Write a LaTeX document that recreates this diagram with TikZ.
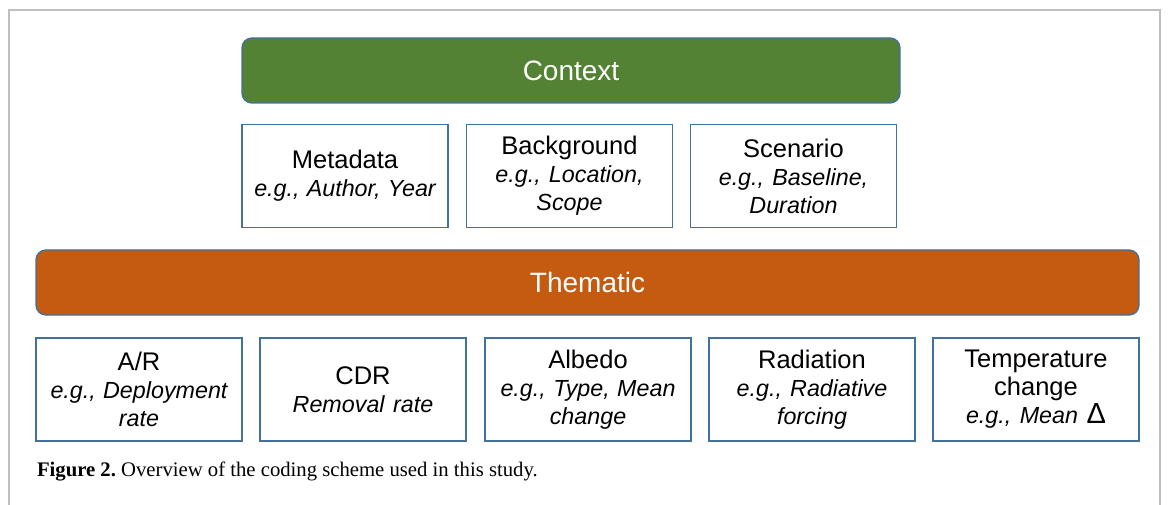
\documentclass[tikz,border=0pt]{standalone}
\usepackage{fontspec}
\setmainfont{Liberation Serif}
\newfontfamily\boxfont{Liberation Sans}
\definecolor{ctxgreen}{HTML}{548235}
\definecolor{thmorange}{HTML}{C55A11}
\definecolor{edgeblue}{HTML}{41719C}
\definecolor{framegray}{HTML}{BFBFBF}
\frenchspacing
\newcommand{\exmp}[1]{{\fontsize{23.3}{28}\selectfont\itshape\spaceskip=0pt\xspaceskip=0pt #1}}

\begin{document}
\begin{tikzpicture}[x=1pt, y=-1pt,
    every node/.style={outer sep=0pt, inner sep=0pt},
    codebox/.style={draw=edgeblue, line width=1.4pt, fill=white, minimum width=206pt, minimum height=103pt, text width=204pt, align=center, font=\boxfont\fontsize{25.5}{28}\selectfont},
    bar/.style={draw=edgeblue, line width=1.4pt, rounded corners=10pt, minimum height=65pt, text=white, font=\boxfont\fontsize{28}{32}\selectfont}]
            \useasboundingbox (0,0) rectangle (1168,505);
            \draw[framegray, line width=2pt] (9,505) -- (9,10) -- (1160,10) -- (1160,505);
            \node[bar, fill=ctxgreen, minimum width=658pt] (context) at (571,70.5) {Context};
            \node[codebox] (meta) at (345,176) {Metadata\\ \exmp{e.g., Author, Year}};
            \node[codebox] (backg) at (569.5,176) {Background\\ \exmp{e.g., Location,}\\ \exmp{Scope}};
            \node[codebox] (scen) at (793.5,176) {Scenario\\ \exmp{e.g., Baseline,}\\ \exmp{Duration}};
            \node[bar, fill=thmorange, minimum width=1103pt] (thematic) at (587.5,282.5) {Thematic};
            \node[codebox] (ar) at (139,389.5) {A/R\\ \exmp{e.g., Deployment}\\ \exmp{rate}};
            \node[codebox] (cdr) at (363,389.5) {CDR\\ \exmp{Removal rate}};
            \node[codebox] (albedo) at (588,389.5) {Albedo\\ \exmp{e.g., Type, Mean}\\ \exmp{change}};
            \node[codebox] (rad) at (812,389.5) {Radiation\\ \exmp{e.g., Radiative}\\ \exmp{forcing}};
            \node[codebox] (temp) at (1036,389.5) {Temperature\\ change\\ \exmp{e.g., Mean {\upshape\fontsize{29}{28}\selectfont Δ}}};
            \node[anchor=base west, font=\fontsize{20.7}{24}\selectfont] (caption) at (37,476) {\textbf{Figure 2.} Overview of the coding scheme used in this study.};
\end{tikzpicture}
\end{document}
